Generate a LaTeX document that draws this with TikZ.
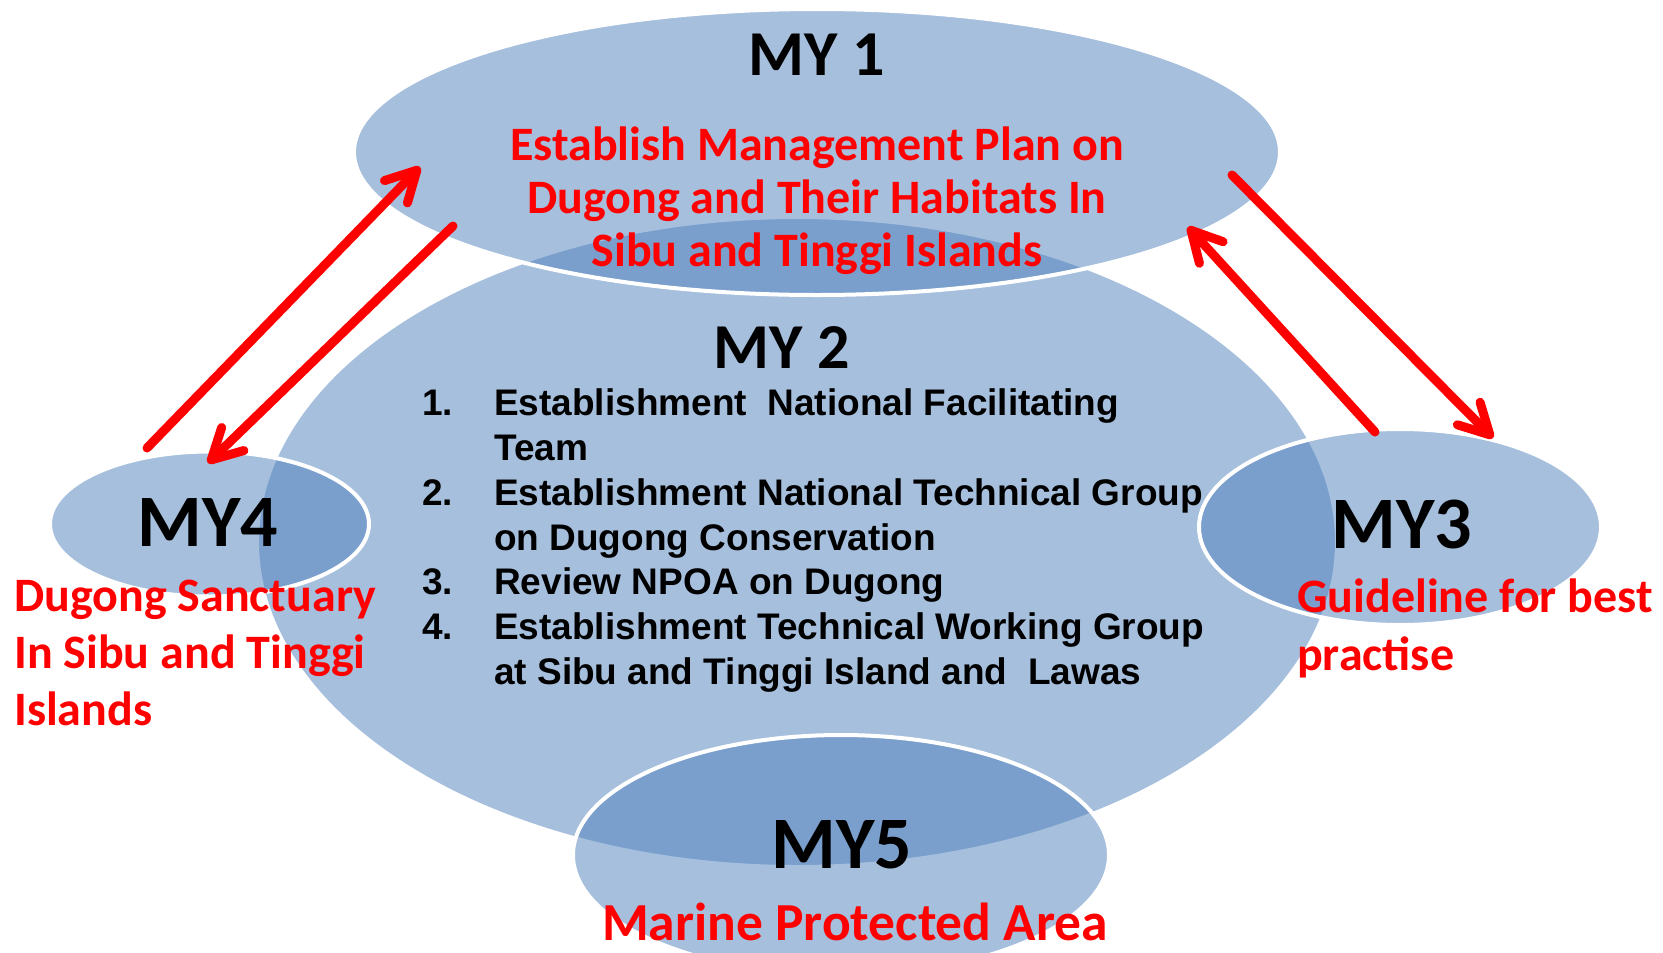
\documentclass[tikz,border=0pt]{standalone}
\usepackage{fontspec}
\setmainfont{Carlito}
\newfontfamily\arialfont{Liberation Sans}
\usetikzlibrary{shapes.geometric,arrows.meta}
\definecolor{blobblue}{RGB}{79,129,189}
\definecolor{myred}{RGB}{255,0,0}
\begin{document}
\begin{tikzpicture}[x=1pt,y=-1pt,
  blob/.style={ellipse, draw=white, line width=4pt, fill=blobblue, fill opacity=0.5, inner sep=0pt},
  title/.style={font=\bfseries\fontsize{64}{64}\selectfont, text=black, inner sep=0pt, anchor=base},
  bigtitle/.style={font=\bfseries\fontsize{74}{74}\selectfont, text=black, inner sep=0pt, anchor=base},
  redtxt/.style={font=\bfseries\fontsize{48}{48}\selectfont, text=myred, inner sep=0pt},
  bigred/.style={font=\bfseries\fontsize{53.5}{53.5}\selectfont, text=myred, inner sep=0pt},
  listtxt/.style={font=\arialfont\bfseries\fontsize{37}{37}\selectfont, text=black, inner sep=0pt, anchor=base west},
  arr/.style={draw=myred, line width=9pt, line cap=round,
    -{Straight Barb[length=30pt, width=32pt, line cap=round, line join=round]}}
]
\useasboundingbox (0,0) rectangle (1663,953);
\fill[white] (0,0) rectangle (1663,953);
% ellipses
\node[blob, minimum width=1080pt, minimum height=650pt] (my2) at (797,542) {};
\node[blob, minimum width=926pt, minimum height=286pt] (my1) at (817,152) {};
\node[blob, minimum width=402pt, minimum height=196pt] (my3) at (1400,527) {};
\node[blob, minimum width=319pt, minimum height=145pt] (my4) at (209.5,524) {};
\node[blob, minimum width=536pt, minimum height=240pt] (my5) at (841,855) {};
% MY1 texts
\node[title] (t1) at (817,75) {MY 1};
\node[redtxt, anchor=base] (r1a) at (817,160) {Establish Management Plan on};
\node[redtxt, anchor=base] (r1b) at (817,213) {Dugong and Their Habitats In};
\node[redtxt, anchor=base] (r1c) at (817,266) {Sibu and Tinggi Islands};
% MY2 texts
\node[title] (t2) at (782,368) {MY 2};
\node[listtxt] (n1) at (422,415) {1.};
\node[listtxt] (l1a) at (494,415) {Establishment\ \ National Facilitating};
\node[listtxt] (l1b) at (494,460) {Team};
\node[listtxt] (n2) at (422,505) {2.};
\node[listtxt] (l2a) at (494,505) {Establishment National Technical Group};
\node[listtxt] (l2b) at (494,550) {on Dugong Conservation};
\node[listtxt] (n3) at (422,594) {3.};
\node[listtxt] (l3) at (494,594) {Review NPOA on Dugong};
\node[listtxt] (n4) at (422,639) {4.};
\node[listtxt] (l4a) at (494,639) {Establishment Technical Working Group};
\node[listtxt] (l4b) at (494,684) {at Sibu and Tinggi Island and\ \ Lawas};
% MY4
\node[bigtitle] (t4) at (208,546) {MY4};
\node[redtxt, anchor=base west] (r4a) at (14,611) {Dugong Sanctuary};
\node[redtxt, anchor=base west] (r4b) at (14,668) {In Sibu and Tinggi};
\node[redtxt, anchor=base west] (r4c) at (14,725) {Islands};
% MY3
\node[bigtitle] (t3) at (1402,548) {MY3};
\node[redtxt, anchor=base west] (r3a) at (1297,612) {Guideline for best};
\node[redtxt, anchor=base west] (r3b) at (1297,670) {practise};
% MY5
\node[bigtitle] (t5) at (842,868) {MY5};
\node[bigred, anchor=base] (r5) at (855,940) {Marine Protected Area};
% arrows
\coordinate (a1s) at (147,448); \coordinate (a1e) at (420,167);
\coordinate (a2s) at (453,226); \coordinate (a2e) at (208,463);
\coordinate (a3s) at (1232,175); \coordinate (a3e) at (1493,438);
\coordinate (a4s) at (1375,432); \coordinate (a4e) at (1188,227);
\draw[arr] (a1s) -- (a1e);
\draw[arr] (a2s) -- (a2e);
\draw[arr] (a3s) -- (a3e);
\draw[arr] (a4s) -- (a4e);
\end{tikzpicture}
\end{document}
